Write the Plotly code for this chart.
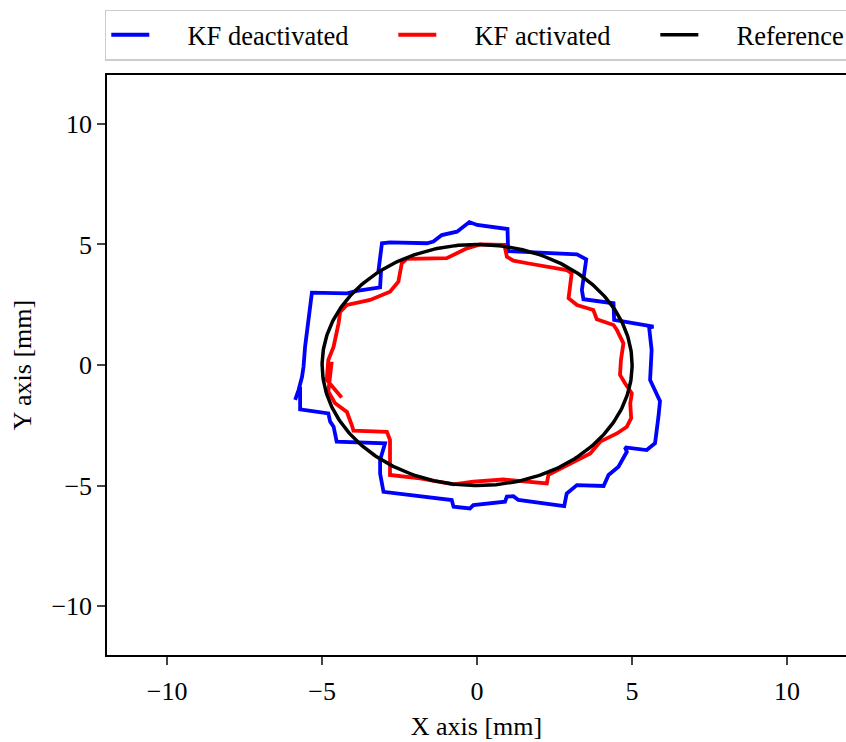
import numpy as np
import plotly.graph_objects as go

# KF deactivated (blue) trajectory, mm
blue_x = [-5.87, -5.76, -5.65, -5.60, -5.55, -5.44, -5.33, -4.20, -3.88, -3.13, -3.10, -3.18, -3.07,
          -2.81, -1.62, -1.41, -1.14, -0.65, -0.25, 0.00, 0.60, 0.98, 1.00, 1.92, 3.22, 3.52,
          3.38, 3.43, 4.40, 4.42, 5.69, 5.55, 5.63, 5.58, 5.90, 5.85, 5.74, 5.47, 4.77, 4.83,
          4.56, 4.24, 4.08, 3.22, 2.89, 2.81, 1.33, 1.17, 0.96, 0.90, -0.12, -0.23, -0.76, -0.82,
          -3.02, -3.13, -3.13, -2.97, -4.53, -4.63, -4.74, -4.80, -5.71, -5.71]
blue_y = [-1.45, -1.04, -0.50, -0.07, 0.76, 1.87, 3.00, 2.97, 3.07, 3.22, 3.90, 3.94, 5.05,
          5.09, 5.05, 5.12, 5.39, 5.53, 5.93, 5.81, 5.72, 5.64, 4.72, 4.66, 4.59, 4.38,
          3.11, 2.73, 2.56, 1.87, 1.59, 1.55, 0.62, -0.62, -1.50, -2.14, -3.25, -3.53, -3.42, -3.60,
          -4.22, -4.56, -5.02, -4.98, -5.33, -5.85, -5.60, -5.44, -5.46, -5.67, -5.81, -5.95, -5.88, -5.60,
          -5.26, -4.50, -3.94, -3.25, -3.18, -2.56, -2.35, -2.01, -1.84, -0.90]

# KF activated (red) trajectory, mm
red_x = [-4.69, -4.74, -4.80, -4.58, -4.20, -4.04, -3.99, -2.91, -2.81, -2.81, -1.84, -0.76, -0.12,
         0.85, 2.25, 2.30, 3.00, 3.65, 3.97, 4.51, 4.83, 4.97, 4.94, 4.99, 4.77, 4.61, 4.64,
         4.72, 4.51, 4.40, 3.86, 3.75, 3.22, 2.95, 3.05, 2.89, 1.71, 1.17, 0.96, 0.88, 0.10,
         -0.33, -0.98, -2.27, -2.43, -2.54, -2.81, -3.45, -4.20, -4.42, -4.47, -4.63, -4.80, -4.85, -4.37]
red_y = [0.14, -0.62, -1.10, -1.59, -1.95, -2.50, -2.72, -2.77, -3.11, -4.56, -4.70, -4.95, -4.84,
         -4.75, -4.91, -4.56, -4.08, -3.67, -3.18, -2.84, -2.56, -2.20, -1.60, -1.18, -0.76, -0.41, 0.21,
         0.90, 1.45, 1.66, 1.90, 2.28, 2.49, 2.77, 3.80, 3.94, 4.20, 4.33, 4.49, 4.98, 5.00,
         4.84, 4.43, 4.40, 4.22, 3.46, 3.04, 2.70, 2.49, 2.20, 1.73, 0.76, 0.21, -0.62, -1.35]

# Reference circle
ref_radius = 5.0
ref_theta = np.linspace(0, 2 * np.pi, 361)
ref_x = ref_radius * np.cos(ref_theta)
ref_y = ref_radius * np.sin(ref_theta)

x_ticks = [-10, -5, 0, 5, 10]
y_ticks = [-10, -5, 0, 5, 10]

series_names = ["KF deactivated", "KF activated", "Reference"]

FONT = "Liberation Serif"
NB = "\u00a0"


def legend_name(s, trailing=6):
    return NB * 5 + s + NB * trailing


fig = go.Figure()
fig.add_trace(go.Scatter(x=blue_x, y=blue_y, mode="lines", name=legend_name(series_names[0]),
                         line=dict(color="#0000ff", width=3.8)))
fig.add_trace(go.Scatter(x=red_x, y=red_y, mode="lines", name=legend_name(series_names[1]),
                         line=dict(color="#ff0000", width=3.8)))
fig.add_trace(go.Scatter(x=ref_x, y=ref_y, mode="lines", name=legend_name(series_names[2], 0),
                         line=dict(color="#000000", width=3.5)))

fig.update_layout(
    width=846, height=742,
    margin=dict(l=107, r=0, t=75, b=87, autoexpand=False),
    paper_bgcolor="white", plot_bgcolor="white",
    font=dict(family=FONT, size=26, color="black"),
    showlegend=True,
    legend=dict(orientation="h", x=-0.003, xanchor="left", y=1.025, yanchor="bottom",
                bordercolor="#cccccc", borderwidth=1.5, bgcolor="white",
                font=dict(family=FONT, size=26.5), itemwidth=38),
    xaxis=dict(range=[-11.94, 11.9], tickvals=x_ticks, ticks="outside", ticklen=8,
               tickwidth=1.5, showline=True, linecolor="black", linewidth=1.5, mirror=True,
               showgrid=False, zeroline=False, ticklabelstandoff=4,
               title=dict(text="X axis [mm]", font=dict(size=26), standoff=12)),
    yaxis=dict(range=[-12.03, 12.03], tickvals=y_ticks, ticks="outside", ticklen=8,
               tickwidth=1.5, showline=True, linecolor="black", linewidth=1.5, mirror=False,
               showgrid=False, zeroline=False,
               title=dict(text="Y axis [mm]", font=dict(size=26), standoff=12)),
)

fig.write_html("out.html")
